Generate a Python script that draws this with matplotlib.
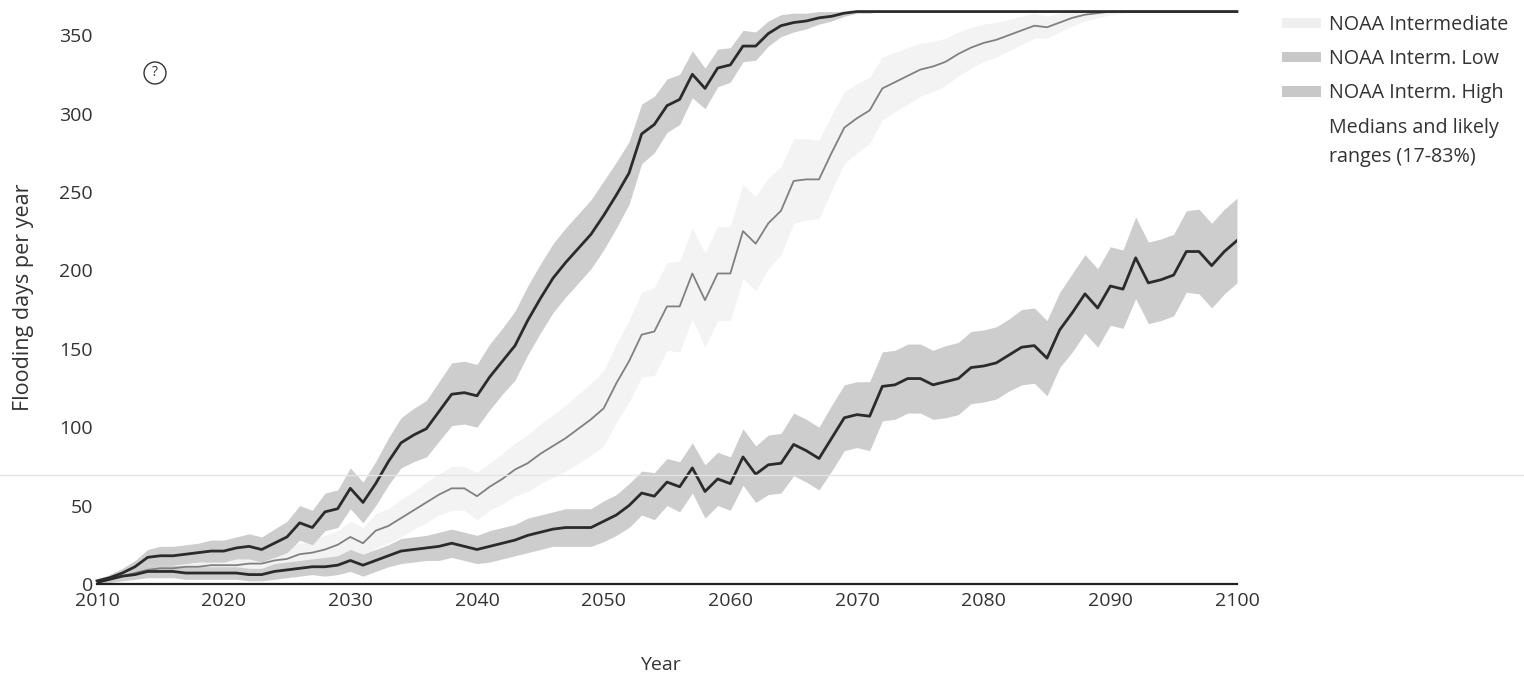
import numpy as np
import matplotlib
matplotlib.use("Agg")
import matplotlib.pyplot as plt
from matplotlib.patches import Patch
from matplotlib.lines import Line2D

plt.rcParams['font.family'] = ['Open Sans', 'DejaVu Sans']

# years 2010..2100, one value per year (flooding days per year)
years = list(range(2010, 2101))

high = [2, 4, 7, 11, 17, 18, 18, 19, 20, 21,
        21, 23, 24, 22, 26, 30, 39, 36, 46, 48,
        61, 52, 64, 78, 90, 95, 99, 110, 121, 122,
        120, 132, 142, 152, 168, 182, 195, 205, 214, 223,
        235, 248, 262, 287, 293, 305, 309, 325, 316, 329,
        331, 343, 343, 351, 356, 358, 359, 361, 362, 364,
        365, 365, 365, 365, 365, 365, 365, 365, 365, 365,
        365, 365, 365, 365, 365, 365, 365, 365, 365, 365,
        365, 365, 365, 365, 365, 365, 365, 365, 365, 365, 365]

inter = [1, 3, 5, 7, 9, 10, 10, 11, 11, 12,
         12, 12, 13, 13, 15, 16, 19, 20, 22, 25,
         30, 26, 34, 37, 42, 47, 52, 57, 61, 61,
         56, 62, 67, 73, 77, 83, 88, 93, 99, 105,
         112, 128, 142, 159, 161, 177, 177, 198, 181, 198,
         198, 225, 217, 230, 238, 257, 258, 258, 275, 291,
         297, 302, 316, 320, 324, 328, 330, 333, 338, 342,
         345, 347, 350, 353, 356, 355, 358, 361, 363, 364,
         365, 365, 365, 365, 365, 365, 365, 365, 365, 365, 365]

low = [1, 3, 5, 6, 8, 8, 8, 7, 7, 7,
       7, 7, 6, 6, 8, 9, 10, 11, 11, 12,
       15, 12, 15, 18, 21, 22, 23, 24, 26, 24,
       22, 24, 26, 28, 31, 33, 35, 36, 36, 36,
       40, 44, 50, 58, 56, 65, 62, 74, 59, 67,
       64, 81, 70, 76, 77, 89, 85, 80, 93, 106,
       108, 107, 126, 127, 131, 131, 127, 129, 131, 138,
       139, 141, 146, 151, 152, 144, 162, 173, 185, 176,
       190, 188, 208, 192, 194, 197, 212, 212, 203, 212, 219]

# half widths of the likely ranges (17-83%)
high_spread = [1, 2, 3, 4, 5, 6, 6, 6, 6, 7,
               7, 7, 8, 8, 9, 10, 11, 11, 12, 12,
               13, 13, 14, 15, 16, 17, 18, 19, 20, 20,
               20, 21, 21, 22, 22, 22, 22, 22, 22, 22,
               22, 21, 20, 19, 18, 17, 16, 15, 13, 12,
               11, 10, 9, 8, 7, 6, 5, 4, 3, 2,
               1, 1, 0, 0, 0, 0, 0, 0, 0, 0,
               0, 0, 0, 0, 0, 0, 0, 0, 0, 0,
               0, 0, 0, 0, 0, 0, 0, 0, 0, 0, 0]

inter_spread = [1, 2, 2, 3, 3, 3, 4, 4, 4, 4,
                5, 5, 5, 6, 6, 7, 7, 8, 9, 9,
                10, 10, 11, 11, 12, 12, 13, 13, 14, 14,
                15, 15, 16, 17, 18, 19, 20, 21, 22, 23,
                24, 25, 26, 27, 28, 28, 29, 29, 30, 30,
                30, 30, 30, 29, 28, 27, 26, 25, 24, 23,
                22, 21, 20, 19, 18, 17, 16, 15, 14, 13,
                12, 11, 10, 9, 8, 7, 6, 5, 4, 3,
                2, 1, 0, 0, 0, 0, 0, 0, 0, 0, 0]

low_spread = [1, 2, 3, 3, 4, 4, 4, 4, 4, 4,
              4, 4, 4, 4, 5, 5, 5, 5, 6, 6,
              7, 7, 7, 7, 8, 8, 8, 9, 9, 9,
              9, 10, 10, 10, 11, 11, 11, 12, 12, 12,
              13, 13, 14, 14, 15, 15, 16, 16, 17, 17,
              17, 18, 18, 19, 19, 20, 20, 20, 21, 21,
              21, 22, 22, 22, 22, 22, 22, 23, 23, 23,
              23, 23, 23, 24, 24, 24, 24, 25, 25, 25,
              25, 25, 26, 26, 26, 26, 26, 27, 27, 27, 27]

legend_labels = ["NOAA Intermediate", "NOAA Interm. Low", "NOAA Interm. High",
                 "Medians and likely\nranges (17-83%)"]

W, H = 1524, 676
fig = plt.figure(figsize=(W / 100, H / 100), dpi=100)
ax = fig.add_axes([97 / W, 92 / H, 1140 / W, 574 / H])

x = np.array(years)
ymax = 365


def band(med, spread):
    med = np.array(med, dtype=float)
    spread = np.array(spread, dtype=float)
    return np.clip(med - spread, 0, ymax), np.clip(med + spread, 0, ymax)


lo, hi = band(inter, inter_spread)
ax.fill_between(x, lo, hi, color='#f3f3f3', lw=0, zorder=1)
lo, hi = band(low, low_spread)
ax.fill_between(x, lo, hi, color='#cdcdcd', lw=0, zorder=2)
lo, hi = band(high, high_spread)
ax.fill_between(x, lo, hi, color='#cdcdcd', lw=0, zorder=2)

ax.plot(x, inter, color='#808080', lw=1.3, zorder=3)
ax.plot(x, low, color='#2b2b2b', lw=2.0, zorder=4)
ax.plot(x, high, color='#2b2b2b', lw=2.0, zorder=4, clip_on=False)

ax.set_xlim(2010, 2100)
ax.set_ylim(0, 366)
ax.set_xticks(range(2010, 2101, 10))
ax.set_yticks(range(0, 351, 50))
ax.tick_params(length=0, labelsize=14, colors='#333333')
ax.tick_params(axis='x', pad=6)
ax.tick_params(axis='y', pad=3)

for s in ['top', 'right', 'left']:
    ax.spines[s].set_visible(False)
ax.spines['bottom'].set_color('#222222')
ax.spines['bottom'].set_linewidth(1.6)
ax.spines['bottom'].set_zorder(5)

ax.set_ylabel("Flooding days per year", fontsize=15.5, color='#333333')
ax.yaxis.set_label_coords(-0.055, 0.5)
ax.set_xlabel("Year", fontsize=14, color='#333333')
ax.xaxis.set_label_coords(0.494, -0.125)

# question mark icon
fig.text(155 / W, 1 - 73 / H, "?", ha='center', va='center', fontsize=10, color='#333333',
         bbox=dict(boxstyle='circle,pad=0.25', fc='white', ec='#333333', lw=1))

# faint scan line across the page
fig.add_artist(Line2D([0, 1], [1 - 475 / H, 1 - 475 / H], transform=fig.transFigure,
                      color='#e4e4e4', lw=1))

handles = [Patch(fc='#efefef', ec='none'),
           Patch(fc='#c8c8c8', ec='none'),
           Patch(fc='#c8c8c8', ec='none'),
           Patch(fc='none', ec='none')]
leg = fig.legend(handles, legend_labels, loc='upper left', bbox_to_anchor=(1282 / W, 1 - 15 / H),
                 frameon=False, fontsize=14.2, handlelength=2.0, handleheight=0.45,
                 handletextpad=0.4, labelspacing=0.72, borderaxespad=0, borderpad=0)
for t in leg.get_texts():
    t.set_color('#333333')
    t.set_linespacing(1.65)

fig.savefig("out.png", dpi=100, facecolor='white')
